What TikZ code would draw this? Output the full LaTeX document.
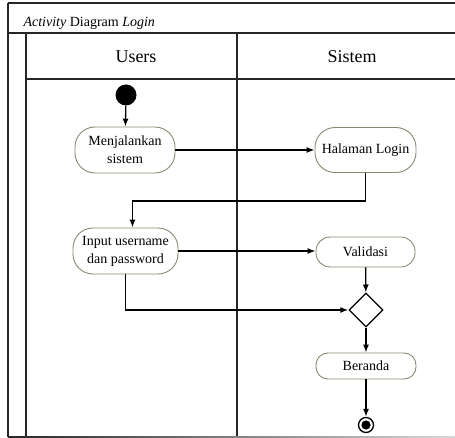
\documentclass[tikz,border=0pt]{standalone}
\usepackage{fontspec}
\setmainfont{Liberation Serif}
\usetikzlibrary{arrows.meta,shapes.geometric}
\definecolor{actborder}{RGB}{140,135,112}

\begin{document}
\begin{tikzpicture}[x=1pt, y=-1pt,
      act/.style={draw=actborder, line width=0.9pt, fill=white, rounded corners=20pt, minimum width=100pt, minimum height=46pt, inner sep=0pt, align=center, font=\fontsize{14}{18}\selectfont},
      lane/.style={font=\fontsize{18}{20}\selectfont},
      frame/.style={line width=1.2pt, black!85},
      arrow/.style={-{Latex[length=8pt,width=6pt]}, line width=1.3pt}
    ]
      \useasboundingbox (0,0) rectangle (455,438);

      % swimlane frame
      \draw[frame] (8,3) -- (455,3);
      \draw[frame] (8,33) -- (455,33);
      \draw[frame] (26,79) -- (455,79);
      \draw[frame] (8,3) -- (8,437);
      \draw[frame] (26,33) -- (26,437);
      \draw[frame] (237,33) -- (237,437);
      \shade[left color=black!85, right color=black!15] (8,436.4) rectangle (455,437.6);

      \node[anchor=base west, font=\fontsize{14}{16}\selectfont] (title) at (20,27) {\textit{Activity} Diagram \textit{Login}};
      \node[lane] (users)  at (136,57) {Users};
      \node[lane] (sistem) at (352,57) {Sistem};

      % activities
      \node[circle, fill=black, minimum size=21pt, inner sep=0pt] (start) at (126,95) {};
      \node[act] (menj) at (125,150) {Menjalankan\\sistem};
      \node[act, minimum width=101pt, minimum height=45pt] (hal) at (365.5,150) {Halaman Login};
      \node[act, minimum width=105pt] (inp) at (125.5,251) {Input username\\dan password};
      \node[act, minimum width=99pt, minimum height=30pt, rounded corners=14pt] (val) at (365.5,252) {Validasi};
      \node[diamond, draw, line width=1.3pt, fill=white, minimum width=34pt, minimum height=34pt, inner sep=0pt] (dec) at (366,310) {};
      \node[act, minimum height=26pt, rounded corners=12pt] (ber) at (366,366) {Beranda};
      \node[circle, draw, line width=1.3pt, fill=white, minimum size=15pt, inner sep=0pt,
            path picture={\fill[black] (path picture bounding box.center) circle (4.6pt);}] (stop) at (366,425) {};

      \draw[arrow] (start) -- (menj);
      \draw[arrow] (menj) -- (hal);
      \draw[arrow] (hal.south) -- ++(0,28) -| ([xshift=7pt]inp.north);
      \draw[arrow] (inp) -- (val.west |- inp.east);
      \draw[arrow] (val) -- (dec);
      \draw[arrow] (inp.south) |- (dec.west);
      \draw[arrow] (dec) -- (ber);
      \draw[arrow] (ber) -- (stop);
    \end{tikzpicture}
\end{document}
